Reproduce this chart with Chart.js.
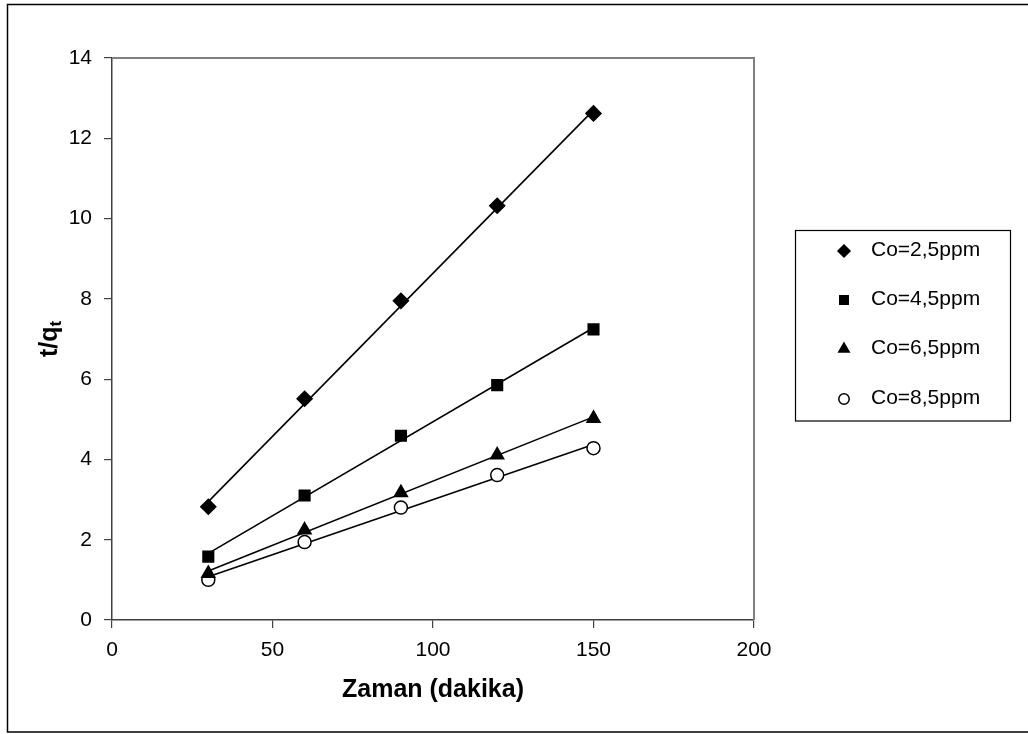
<!DOCTYPE html>
<html>
<head>
<meta charset="utf-8">
<script src="https://cdn.jsdelivr.net/npm/chart.js@4.4.1/dist/chart.umd.min.js"></script>
<style>
  html, body { margin: 0; padding: 0; background: #ffffff; }
  #wrap { position: relative; width: 1028px; height: 734px; }
</style>
</head>
<body>
<div id="wrap"><canvas id="c"></canvas></div>
<script>
// ---- data ----
const times = [30, 60, 90, 120, 150];
const co25 = [2.82, 5.51, 7.95, 10.32, 12.62];
const co45 = [1.58, 3.10, 4.59, 5.85, 7.24];
const co65 = [1.16, 2.24, 3.17, 4.11, 5.02];
const co85 = [1.00, 1.94, 2.80, 3.61, 4.28];
// trendline end points (x = 30 and x = 150)
const trendX = [30, 150];
const trend25 = [2.95, 12.70];
const trend45 = [1.66, 7.28];
const trend65 = [1.22, 5.06];
const trend85 = [1.08, 4.37];
const seriesLabels = ['Co=2,5ppm', 'Co=4,5ppm', 'Co=6,5ppm', 'Co=8,5ppm'];
const xTitle = 'Zaman (dakika)';
const yTitleMain = 't/q';
const yTitleSub = 't';

const FONT = '"Liberation Sans", Arial, sans-serif';

function pts(xs, ys) { return xs.map((x, i) => ({ x: x, y: ys[i] })); }

const markerDefs = [
  { style: 'rectRot', radius: 7.5, bg: '#000', border: '#000' },
  { style: 'rect', radius: 7.5, bg: '#000', border: '#000' },
  { style: 'triangle', radius: 7.5, bg: '#000', border: '#000' },
  { style: 'circle', radius: 6.5, bg: '#fff', border: '#000' }
];
const pointSets = [co25, co45, co65, co85];
const trendSets = [trend25, trend45, trend65, trend85];

const datasets = [];
trendSets.forEach((t, i) => {
  datasets.push({
    label: 'trend ' + seriesLabels[i],
    data: pts(trendX, t),
    showLine: true,
    borderColor: '#000',
    borderWidth: 1.6,
    pointRadius: 0,
    pointHoverRadius: 0,
    fill: false,
    order: 2
  });
});
pointSets.forEach((s, i) => {
  const m = markerDefs[i];
  datasets.push({
    label: seriesLabels[i],
    data: pts(times, s),
    showLine: false,
    pointStyle: m.style,
    pointRadius: m.radius,
    pointHoverRadius: m.radius,
    pointBackgroundColor: m.bg,
    pointBorderColor: m.border,
    pointBorderWidth: 1.5,
    order: 1
  });
});

const decor = {
  id: 'decor',
  afterDraw(chart) {
    const ctx = chart.ctx;
    const a = chart.chartArea;
    ctx.save();
    // outer chart border
    ctx.strokeStyle = '#000';
    ctx.lineWidth = 1.5;
    ctx.strokeRect(7.5, 4.5, 1030, 727.5);
    // plot area frame (top & right)
    ctx.strokeStyle = '#808080';
    ctx.lineWidth = 2;
    ctx.beginPath();
    ctx.moveTo(a.left, a.top);
    ctx.lineTo(a.right, a.top);
    ctx.lineTo(a.right, a.bottom);
    ctx.stroke();

    // x axis title
    ctx.fillStyle = '#000';
    ctx.font = 'bold 25px ' + FONT;
    ctx.textAlign = 'center';
    ctx.textBaseline = 'middle';
    ctx.fillText(xTitle, (a.left + a.right) / 2, 690);

    // y axis title with subscript
    ctx.save();
    ctx.translate(48, (a.top + a.bottom) / 2);
    ctx.rotate(-Math.PI / 2);
    ctx.font = 'bold 25px ' + FONT;
    const wMain = ctx.measureText(yTitleMain).width;
    ctx.font = 'bold 17px ' + FONT;
    const wSub = ctx.measureText(yTitleSub).width;
    const start = -(wMain + wSub) / 2;
    ctx.textAlign = 'left';
    ctx.textBaseline = 'alphabetic';
    ctx.font = 'bold 25px ' + FONT;
    ctx.fillText(yTitleMain, start, 9);
    ctx.font = 'bold 17px ' + FONT;
    ctx.fillText(yTitleSub, start + wMain, 13);
    ctx.restore();

    // legend
    ctx.strokeStyle = '#000';
    ctx.lineWidth = 1.2;
    ctx.fillStyle = '#fff';
    ctx.fillRect(795.5, 230.5, 215, 190.5);
    ctx.strokeRect(795.5, 230.5, 215, 190.5);
    const rows = [250, 299, 348, 398];
    ctx.font = '21px ' + FONT;
    ctx.textAlign = 'left';
    ctx.textBaseline = 'middle';
    seriesLabels.forEach((lab, i) => {
      const m = markerDefs[i];
      ctx.fillStyle = m.bg;
      ctx.strokeStyle = m.border;
      ctx.lineWidth = 1.5;
      Chart.helpers.drawPoint(ctx, { pointStyle: m.style, rotation: 0, borderWidth: 1.5, radius: m.radius * 0.8 }, 844, rows[i] + 1);
      ctx.fillStyle = '#000';
      ctx.fillText(lab, 871, rows[i]);
    });
    ctx.restore();
  }
};

new Chart(document.getElementById('c'), {
  type: 'scatter',
  data: { datasets: datasets },
  plugins: [decor],
  options: {
    responsive: true,
    maintainAspectRatio: false,
    animation: false,
    events: [],
    layout: { padding: { top: 58, right: 274, left: 0, bottom: 0 } },
    plugins: { legend: { display: false }, tooltip: { enabled: false } },
    scales: {
      x: {
        type: 'linear',
        min: 0, max: 200,
        afterFit(s) { s.height = 114; },
        ticks: { stepSize: 50, color: '#000', font: { family: FONT, size: 21 }, padding: 10 },
        grid: { drawOnChartArea: false, drawTicks: true, tickLength: 8, color: '#404040', lineWidth: 1.2 },
        border: { color: '#404040', width: 1.5 }
      },
      y: {
        type: 'linear',
        min: 0, max: 14,
        afterFit(s) { s.width = 112; },
        ticks: { stepSize: 2, color: '#000', font: { family: FONT, size: 21 }, padding: 12 },
        grid: { drawOnChartArea: false, drawTicks: true, tickLength: 8, color: '#404040', lineWidth: 1.2 },
        border: { color: '#404040', width: 1.5 }
      }
    }
  }
});
</script>
</body>
</html>
